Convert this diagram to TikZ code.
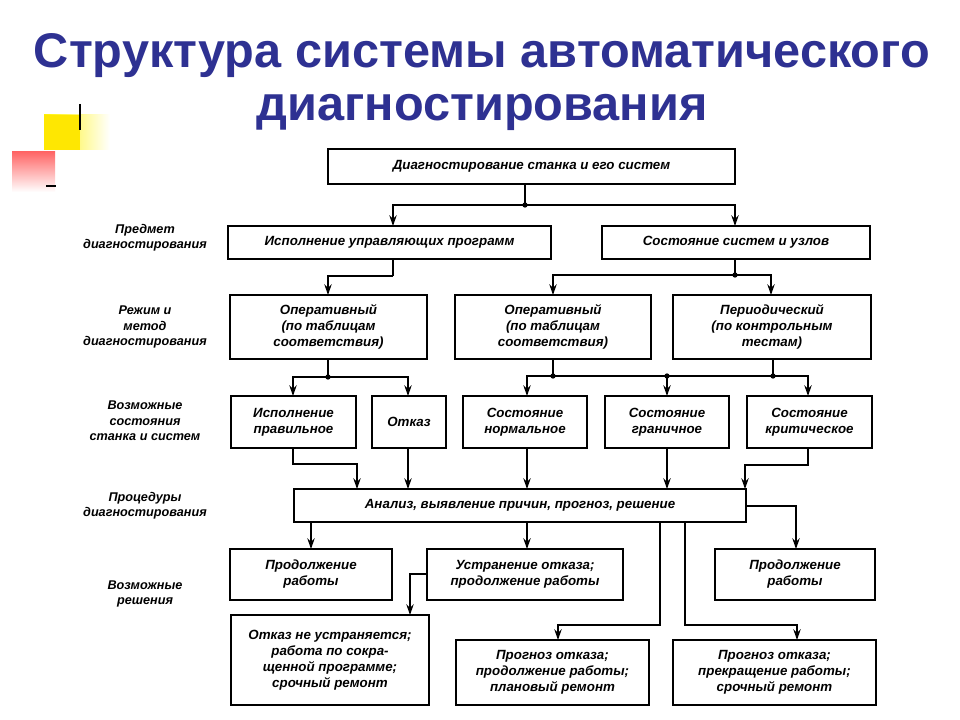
\documentclass[tikz,border=0pt]{standalone}
\usepackage{fontspec}
\setmainfont{Liberation Sans}
\usetikzlibrary{arrows.meta,calc}
\definecolor{ttl}{HTML}{2E3192}
\newcommand\bxn[6]{\node[bx,minimum width={(#4-#2)*0.75pt},minimum height={(#5-#3)*0.75pt}] (#1) at ({(#2+#4)/2},{(#3+#5)/2}) {#6};}
\begin{document}
\begin{tikzpicture}[x=0.75pt,y=-0.75pt,
  bx/.style={draw,line width=1.6pt,inner sep=0pt,outer sep=0pt,align=center,font=\itshape\bfseries\fontsize{10}{12}\selectfont},
  lb/.style={align=center,font=\itshape\bfseries\fontsize{9.5}{11.5}\selectfont},
  ln/.style={line width=1.5pt},
  ar/.style={ln,-{Stealth[length=8pt,width=5.5pt]}},
  dot/.style={circle,fill,inner sep=1.4pt}]
\useasboundingbox (0,0) rectangle (960,720);
\fill[white] (0,0) rectangle (960,720);
% decoration
\shade[left color=yellow!90!orange, right color=white] (44,115) rectangle (110,150);
\fill[yellow!90!orange] (44,115) rectangle (80,150);
\shade[top color=red!60, bottom color=white, shading angle=0] (12,152) rectangle (55,192);
\draw[line width=1.5pt] (80,104) -- (80,130);
\draw[line width=1.5pt] (46,186) -- (56,186);
% title
\node[font=\bfseries\fontsize{36.5}{40}\selectfont,text=ttl,align=center] (title) at (482,82) {Структура системы автоматического\\диагностирования};
% boxes
\bxn{top}{328}{149}{735}{184}{Диагностирование станка и его систем}
\bxn{isp}{228}{226}{551}{259}{Исполнение управляющих программ}
\bxn{sos}{602}{226}{870}{259}{Состояние систем и узлов}
\bxn{op1}{230}{295}{427}{359}{Оперативный\\(по таблицам\\соответствия)}
\bxn{op2}{455}{295}{651}{359}{Оперативный\\(по таблицам\\соответствия)}
\bxn{per}{673}{295}{871}{359}{Периодический\\(по контрольным\\тестам)}
\bxn{ipr}{231}{396}{356}{448}{Исполнение\\правильное}
\bxn{otk}{372}{396}{446}{448}{Отказ}
\bxn{snorm}{463}{396}{587}{448}{Состояние\\нормальное}
\bxn{sgr}{605}{396}{729}{448}{Состояние\\граничное}
\bxn{skr}{747}{396}{872}{448}{Состояние\\критическое}
\bxn{an}{294}{489}{746}{522}{Анализ, выявление причин, прогноз, решение}
\bxn{pr1}{230}{549}{392}{600}{Продолжение\\работы}
\bxn{ust}{427}{549}{623}{600}{Устранение отказа;\\продолжение работы}
\bxn{pr2}{715}{549}{875}{600}{Продолжение\\работы}
\bxn{neu}{231}{615}{429}{705}{Отказ не устраняется;\\работа по сокра-\\щенной программе;\\срочный ремонт}
\bxn{pg1}{456}{640}{649}{705}{Прогноз отказа;\\продолжение работы;\\плановый ремонт}
\bxn{pg2}{673}{640}{876}{705}{Прогноз отказа;\\прекращение работы;\\срочный ремонт}
% left labels
\node[lb] (l1) at (145,238) {Предмет\\диагностирования};
\node[lb] (l2) at (145,327) {Режим и\\метод\\диагностирования};
\node[lb] (l3) at (145,421) {Возможные\\состояния\\станка и систем};
\node[lb] (l4) at (145,506) {Процедуры\\диагностирования};
\node[lb] (l5) at (145,594) {Возможные\\решения};
% connectors
\coordinate (j1) at (525,205);
\draw[ln] (top.south -| j1) -- (j1);
\draw[ar] (j1) -| (isp.north -| 393,0);
\draw[ar] (j1) -| (sos.north -| 735,0);
\node[dot] at (j1) {};
\coordinate (j2) at (393,276);
\draw[ln] (isp.south -| j2) -- (j2);
\draw[ar] (j2) -| (op1.north -| 328,0);
\coordinate (j3) at (735,275);
\draw[ln] (sos.south -| j3) -- (j3);
\draw[ar] (j3) -| (op2.north -| 553,0);
\draw[ar] (j3) -| (per.north -| 771,0);
\node[dot] at (j3) {};
\coordinate (j4) at (328,377);
\draw[ln] (op1.south -| j4) -- (j4);
\draw[ar] (j4) -| (ipr.north -| 293,0);
\draw[ar] (j4) -| (otk.north -| 408,0);
\node[dot] at (j4) {};
\coordinate (j5) at (553,376);
\coordinate (j6) at (773,376);
\coordinate (j7) at (667,376);
\draw[ln] (op2.south -| j5) -- (j5);
\draw[ln] (per.south -| j6) -- (j6);
\draw[ar] (j5) -| (snorm.north -| 527,0);
\draw[ar] (j6) -| (skr.north -| 808,0);
\draw[ln] (j5) -- (j6);
\draw[ar] (j7) -- (sgr.north -| j7);
\node[dot] at (j5) {};\node[dot] at (j6) {};\node[dot] at (j7) {};
% to analysis
\draw[ar] (ipr.south -| 293,0) |- (357,464) -- (an.north -| 357,0);
\draw[ar] (otk.south -| 408,0) -- (an.north -| 408,0);
\draw[ar] (snorm.south -| 527,0) -- (an.north -| 527,0);
\draw[ar] (sgr.south -| 667,0) -- (an.north -| 667,0);
\draw[ar] (skr.south -| 808,0) |- (745,465) -- (an.north -| 745,0);
% from analysis
\draw[ar] (an.south -| 311,0) -- (pr1.north -| 311,0);
\draw[ar] (an.south -| 527,0) -- (ust.north -| 527,0);
\draw[ar] (an.south -| 660,0) |- (558,625) -- (pg1.north -| 558,0);
\draw[ar] (an.south -| 685,0) |- (797,625) -- (pg2.north -| 797,0);
\draw[ar] (an.east) -| (pr2.north -| 796,0);
\draw[ar] (ust.west |- 0,574) -| (neu.north -| 410,0);
\end{tikzpicture}
\end{document}
